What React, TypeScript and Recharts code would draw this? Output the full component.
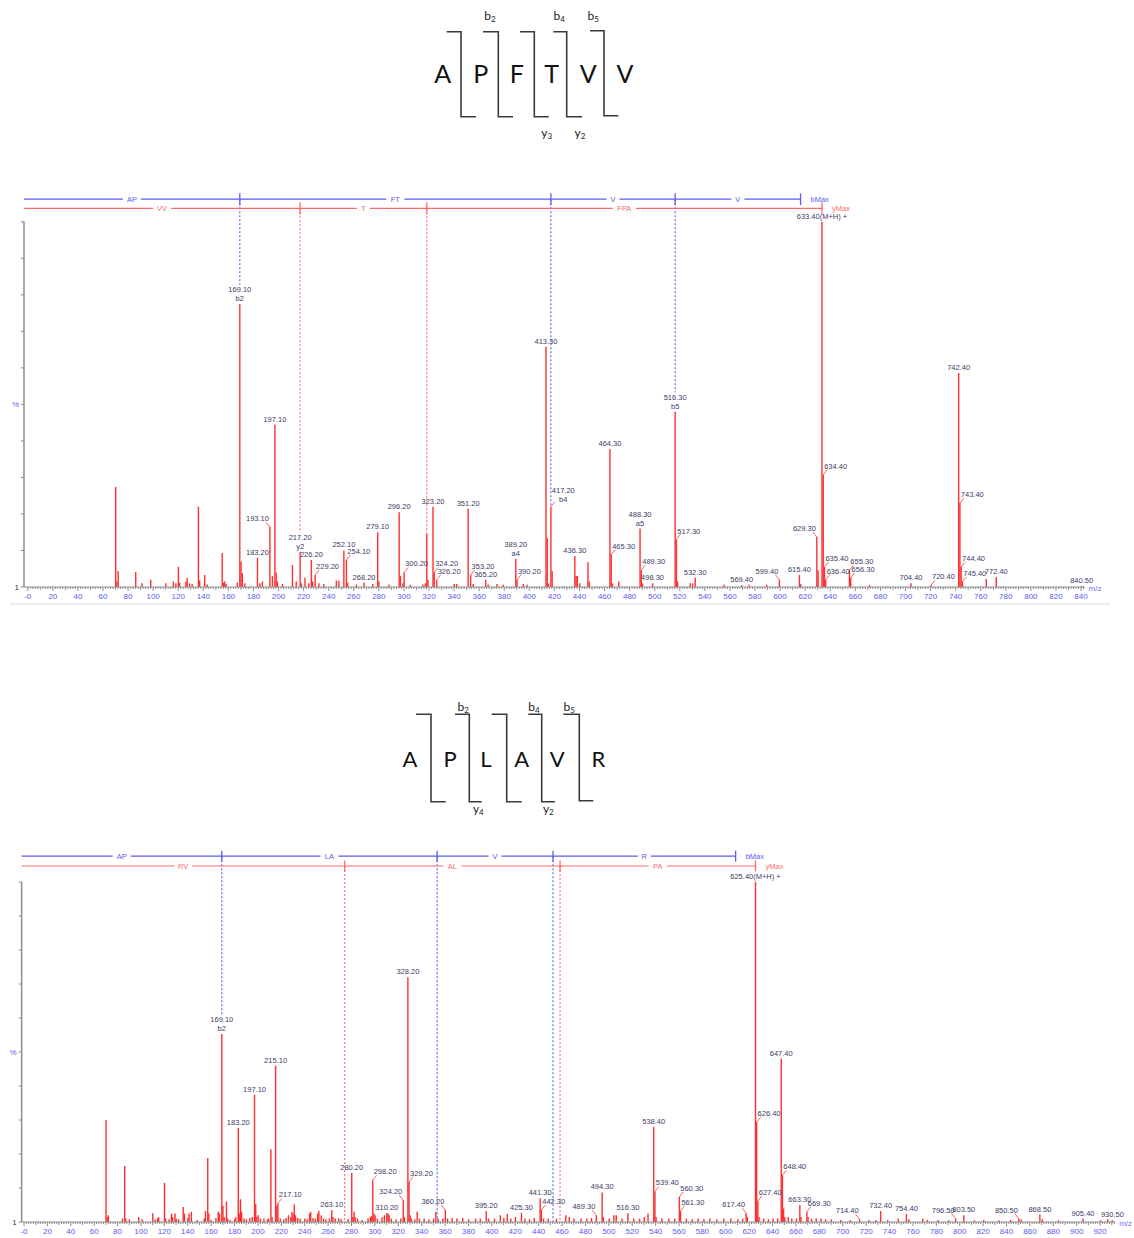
import React from 'react';
import { ComposedChart, Bar, XAxis, YAxis, ReferenceLine, ReferenceDot } from 'recharts';

// ================= Spectrum 1 : APFTVV =================
const spec1Mz = [70.1, 71.1, 72.1, 86.1, 91.1, 98.1, 110.1, 116.1, 118.1, 120.1, 121.1, 126.1, 127.1, 129.1, 131.1, 136.1, 137.1, 141.1, 143.1, 155.1, 156.1, 157.1, 158.1, 167.1, 169.1, 170.1, 171.1, 173.1, 183.2, 185.1, 187.1, 193.1, 195.1, 197.1, 198.1, 199.1, 203.1, 211.1, 214.1, 217.2, 218.2, 221.1, 224.1, 226.2, 227.2, 229.2, 232.1, 236.1, 246.1, 248.1, 252.1, 254.1, 255.1, 262.1, 268.2, 275.1, 279.1, 280.1, 288.1, 296.2, 297.2, 299.2, 300.2, 305.1, 315.1, 317.1, 318.2, 319.2, 323.2, 324.2, 326.2, 340.1, 342.1, 351.2, 353.2, 355.2, 365.2, 367.2, 374.2, 379.2, 389.2, 390.2, 395.2, 398.2, 413.3, 414.3, 415.3, 417.2, 418.2, 436.3, 437.3, 438.3, 440.3, 446.8, 447.8, 464.3, 465.3, 466.3, 471.3, 488.3, 489.3, 490.3, 498.3, 516.3, 517.3, 518.3, 528.3, 530.3, 532.3, 555.3, 569.4, 575.3, 589.3, 599.4, 615.4, 616.4, 629.3, 630.3, 633.4, 634.4, 635.4, 636.4, 655.3, 656.3, 671.3, 704.4, 720.4, 742.4, 743.4, 744.4, 745.4, 764.4, 772.4, 840.5];
const spec1Intensity = [27.4, 1.5, 4.4, 4.1, 1, 2, 1, 1.5, 1, 5.5, 1.2, 1.5, 2.5, 1, 0.8, 22, 1.8, 3.3, 0.7, 9.3, 1.2, 1.5, 0.8, 1.2, 77.5, 7, 3.8, 1, 8, 1, 1.5, 16.4, 3, 44.4, 4, 1.5, 0.8, 6, 1.5, 9.6, 1, 2.5, 1, 7.4, 1.5, 3.3, 1, 0.8, 1.8, 1.8, 10, 7.4, 1.2, 0.7, 1.2, 0.8, 15, 1.5, 0.7, 20.5, 3, 1, 4, 0.6, 0.7, 1, 14.5, 2, 22, 4, 2, 0.8, 0.8, 21.4, 3.3, 0.8, 2, 0.7, 0.8, 0.6, 7.7, 2, 0.8, 0.6, 65.8, 13.4, 1, 22, 4.4, 8.5, 3, 3, 1, 6.8, 1.5, 37.8, 8.8, 1, 1.5, 16, 4.6, 1, 1, 48, 13, 1.5, 1, 1, 2.5, 0.6, 0.5, 0.6, 0.6, 2, 3.3, 0.8, 13.7, 4.6, 100, 30.7, 5.5, 2, 4.6, 2.5, 0.6, 1, 0.5, 58.6, 23, 5.5, 1.4, 2.2, 2.7, 0.3];
const spec1Labels: [number, string, string?][] = [
  [169.1, '169.10', 'b2'], [183.2, '183.20'], [193.1, '193.10'], [197.1, '197.10'], [217.2, '217.20', 'y2'],
  [226.2, '226.20'], [229.2, '229.20'], [252.1, '252.10'], [254.1, '254.10'], [268.2, '268.20'], [279.1, '279.10'],
  [296.2, '296.20'], [300.2, '300.20'], [323.2, '323.20'], [324.2, '324.20'], [326.2, '326.20'], [351.2, '351.20'],
  [353.2, '353.20'], [365.2, '365.20'], [389.2, '389.20', 'a4'], [390.2, '390.20'], [413.3, '413.30'],
  [417.2, '417.20', 'b4'], [436.3, '436.30'], [464.3, '464.30'], [465.3, '465.30'], [488.3, '488.30', 'a5'],
  [489.3, '489.30'], [498.3, '498.30'], [516.3, '516.30', 'b5'], [517.3, '517.30'], [532.3, '532.30'],
  [569.4, '569.40'], [599.4, '599.40'], [615.4, '615.40'], [629.3, '629.30'], [633.4, '633.40(M+H) +'],
  [634.4, '634.40'], [635.4, '635.40'], [636.4, '636.40'], [655.3, '655.30'], [656.3, '656.30'], [704.4, '704.40'],
  [720.4, '720.40'], [742.4, '742.40'], [743.4, '743.40'], [744.4, '744.40'], [745.4, '745.40'], [772.4, '772.40'],
  [840.5, '840.50'],
];
const spec1LeftLeader = [193.1, 599.4, 629.3];
const spec1RightLeader = [229.2, 254.1, 300.2, 324.2, 326.2, 353.2, 390.2, 417.2, 465.3, 489.3, 517.3, 634.4, 635.4, 636.4, 655.3, 656.3, 720.4, 743.4, 744.4, 745.4];
const seq1BCuts = [169.1, 417.2, 516.3, 616.3];
const seq1BNames = ['AP', 'FT', 'V', 'V'];
const seq1YCuts = [217.2, 318.2, 633.4];
const seq1YNames = ['VV', 'T', 'FPA'];

// ================= Spectrum 2 : APLAVR =================
const spec2Mz = [70.1, 71.1, 72.1, 84.1, 86.1, 87.1, 90.1, 98.1, 101.1, 110.1, 112.1, 114.1, 115.1, 120.1, 121.1, 124.1, 126.1, 127.1, 129.1, 130.1, 132.1, 136.1, 137.1, 140.1, 141.1, 143.1, 148.1, 154.1, 155.1, 157.1, 158.1, 160.1, 164.1, 166.1, 167.1, 169.1, 170.1, 171.1, 173.1, 174.1, 176.1, 180.1, 181.1, 183.2, 184.2, 185.1, 186.1, 188.1, 190.1, 193.1, 195.1, 197.1, 198.1, 199.1, 200.1, 202.1, 205.1, 208.1, 209.1, 211.1, 212.1, 215.1, 216.1, 217.1, 219.1, 222.1, 224.1, 226.1, 228.1, 229.1, 230.1, 231.1, 232.1, 234.1, 236.1, 240.1, 242.1, 244.1, 245.1, 247.1, 249.1, 251.1, 252.1, 254.1, 256.1, 258.1, 261.1, 263.1, 264.1, 266.1, 269.1, 271.1, 277.1, 280.2, 281.2, 282.2, 283.1, 285.1, 289.1, 294.1, 296.1, 297.1, 298.2, 299.2, 300.2, 302.1, 306.1, 308.1, 310.2, 311.2, 312.2, 314.1, 318.1, 322.1, 324.2, 325.2, 328.2, 329.2, 330.2, 331.2, 334.1, 336.1, 338.1, 342.1, 346.1, 350.1, 352.1, 354.1, 358.1, 360.2, 362.1, 366.1, 370.1, 375.1, 380.1, 386.1, 390.1, 395.2, 397.2, 402.2, 407.2, 410.2, 413.2, 416.2, 420.2, 425.3, 428.2, 432.2, 436.2, 441.3, 442.3, 444.2, 448.2, 455.2, 463.2, 466.2, 470.2, 476.2, 481.2, 485.2, 489.3, 494.3, 495.3, 500.3, 504.3, 506.3, 511.3, 516.3, 521.3, 526.3, 530.3, 533.5, 538.4, 539.4, 540.4, 545.3, 551.3, 556.3, 560.3, 561.3, 566.3, 571.3, 576.3, 581.3, 586.3, 592.3, 598.3, 604.3, 610.3, 614.4, 617.4, 618.4, 625.4, 626.4, 627.4, 628.4, 632.4, 636.4, 640.4, 644.4, 647.4, 648.4, 649.4, 650.4, 653.4, 656.4, 660.4, 663.3, 664.3, 669.3, 670.3, 673.3, 677.3, 681.3, 685.3, 690.3, 698.3, 706.4, 714.4, 722.4, 728.4, 732.4, 738.4, 747.4, 754.4, 756.4, 768.4, 772.4, 781.4, 790.5, 796.5, 803.5, 812.5, 820.5, 833.5, 843.5, 850.5, 852.5, 868.5, 870.5, 884.5, 905.4, 920.5, 926.5, 930.5];
const spec2Intensity = [30, 1.5, 2, 1, 16.5, 1, 0.8, 1.5, 0.8, 2.6, 0.7, 1, 1.5, 11.5, 1, 0.8, 2.5, 1.5, 2.5, 1, 0.8, 4.4, 2.5, 1.2, 2.5, 3, 0.6, 1, 3.2, 18.8, 2.5, 0.6, 1.2, 3, 2.5, 55.3, 4.8, 1.5, 6, 1, 0.6, 0.8, 1.5, 27.7, 2.5, 6.7, 3, 1, 0.8, 1.2, 1.5, 37.4, 5.2, 1.5, 2, 1, 1, 0.8, 1, 21.4, 1.5, 46, 4.8, 5.5, 1, 0.8, 1.2, 2, 1.5, 3, 2.5, 5.2, 2, 1.2, 1, 1, 0.8, 2.5, 3, 1.2, 1, 2.5, 3.3, 2, 1, 0.8, 1, 3.5, 1.5, 1, 1, 0.8, 0.8, 14.5, 1.5, 3, 1.5, 1, 0.6, 1, 1.5, 1.7, 12.3, 2.5, 2, 1, 1.5, 2, 2.6, 2.5, 2, 1, 0.8, 1, 6.4, 1.5, 72, 11.8, 2, 1, 0.8, 3, 1, 1, 0.8, 1, 3, 1, 1, 3.5, 1, 1.2, 1, 1.2, 0.8, 1, 1, 3.2, 1, 1, 2, 1.2, 2.4, 1, 1.5, 2.7, 1, 0.8, 1.2, 7, 3.5, 1, 1, 1, 2, 1.5, 1, 1, 1, 1.2, 2, 8.7, 1.5, 1, 2, 2, 1, 2.6, 1, 1, 1.5, 2.5, 28, 9, 1.5, 1, 1, 1, 7.4, 3.2, 1, 0.8, 1, 0.8, 1, 0.8, 1, 1, 0.8, 1, 2.6, 1.5, 100, 29.4, 6.2, 1.5, 1, 0.8, 1, 1, 48, 13.8, 4, 1.5, 1.5, 1, 1, 5, 1.5, 3, 1.5, 1, 1, 1, 0.8, 0.8, 0.6, 0.6, 0.8, 0.6, 0.6, 3.2, 0.6, 1, 2.4, 0.8, 1, 0.6, 0.6, 0.5, 1, 2, 0.5, 0.6, 0.5, 0.6, 1, 0.7, 2.2, 0.8, 0.5, 1, 0.5, 0.8, 0.5];
const spec2Labels: [number, string, string?][] = [
  [169.1, '169.10', 'b2'], [183.2, '183.20'], [197.1, '197.10'], [215.1, '215.10'], [217.1, '217.10'],
  [263.1, '263.10'], [280.2, '280.20'], [298.2, '298.20'], [310.2, '310.20'], [324.2, '324.20'], [328.2, '328.20'],
  [329.2, '329.20'], [360.2, '360.20'], [395.2, '395.20'], [425.3, '425.30'], [441.3, '441.30'], [442.3, '442.30'],
  [489.3, '489.30'], [494.3, '494.30'], [516.3, '516.30'], [538.4, '538.40'], [539.4, '539.40'], [560.3, '560.30'],
  [561.3, '561.30'], [617.4, '617.40'], [625.4, '625.40(M+H) +'], [626.4, '626.40'], [627.4, '627.40'],
  [647.4, '647.40'], [648.4, '648.40'], [663.3, '663.30'], [669.3, '669.30'], [714.4, '714.40'], [732.4, '732.40'],
  [754.4, '754.40'], [796.5, '796.50'], [803.5, '803.50'], [850.5, '850.50'], [868.5, '868.50'], [905.4, '905.40'],
  [930.5, '930.50'],
];
const spec2LeftLeader = [324.2, 360.2, 489.3, 617.4, 714.4, 796.5, 850.5];
const spec2RightLeader = [217.1, 298.2, 329.2, 442.3, 539.4, 560.3, 561.3, 626.4, 627.4, 648.4, 669.3];
const seq2BCuts = [169.1, 353.2, 452.3, 608.4];
const seq2BNames = ['AP', 'LA', 'V', 'R'];
const seq2YCuts = [274.2, 458.3, 625.4];
const seq2YNames = ['RV', 'AL', 'PA'];

// ================= Peptide diagrams =================
const pep1Letters = ['A', 'P', 'F', 'T', 'V', 'V'];
const pep1Ions: [string, string, 'b' | 'y'][] = [['b', '2', 'b'], ['b', '4', 'b'], ['b', '5', 'b'], ['y', '3', 'y'], ['y', '2', 'y']];
const pep2Letters = ['A', 'P', 'L', 'A', 'V', 'R'];
const pep2Ions: [string, string, 'b' | 'y'][] = [['b', '2', 'b'], ['b', '4', 'b'], ['b', '5', 'b'], ['y', '4', 'y'], ['y', '2', 'y']];

const yTicks = [0, 10, 20, 30, 40, 50, 60, 70, 80, 90, 100];
const FONT = "'Liberation Sans', Arial, sans-serif";
const BLUE = '#5b5bf2';
const RED = '#ff6a6a';
const BAR = '#ff2f2f';
const LABEL = '#3d3b66';

function makeTicks(max: number) {
  const t: number[] = [];
  for (let v = 0; v <= max; v += 2) t.push(v);
  return t;
}

const XTick = (props: any) => {
  const { x, y, payload, last } = props;
  const v = payload.value;
  const major = v % 20 === 0;
  const mid = v % 10 === 0;
  return (
    <g>
      <line x1={x} y1={y} x2={x} y2={y + (major ? 4 : mid ? 3 : 2)} stroke="#8c8c8c" strokeWidth={1} />
      {major && (
        <text x={x} y={y + 12} textAnchor="middle" fontSize={8} fontFamily={FONT} fill="#5a5af0">
          {v === 0 ? '-0' : v}
        </text>
      )}
      {v === last && (
        <text x={x + 5} y={y + 4} fontSize={8} fontFamily={FONT} fill="#7070f0">m/z</text>
      )}
    </g>
  );
};

const YTick = (props: any) => {
  const { x, y, payload } = props;
  const v = payload.value;
  return (
    <g>
      <line x1={x - 3} y1={y} x2={x} y2={y} stroke="#8c8c8c" strokeWidth={1} />
      {v === 0 && <text x={x - 5} y={y + 3} textAnchor="end" fontSize={8} fontFamily={FONT} fill="#333">1</text>}
      {v === 50 && <text x={x - 5} y={y + 3} textAnchor="end" fontSize={8} fontFamily={FONT} fill="#5a5af0">%</text>}
    </g>
  );
};

const PeakBar = (props: any) => {
  const { x, y, width, height } = props;
  if (x == null || y == null) return null;
  const cx = x + width / 2;
  return <line x1={cx} y1={y} x2={cx} y2={y + height} stroke={BAR} strokeWidth={1.4} />;
};

function PeakLabel(props: any) {
  const { cx, cy, text, ion, mode } = props;
  const common = { fontSize: 7.5, fontFamily: FONT, fill: LABEL };
  if (mode === 'c') {
    return (
      <g>
        <text x={cx} y={cy - (ion ? 12 : 3)} textAnchor="middle" {...common}>{text}</text>
        {ion && <text x={cx} y={cy - 3} textAnchor="middle" {...common}>{ion}</text>}
      </g>
    );
  }
  const dir = mode === 'r' ? 1 : -1;
  const w = text.length * 3.8;
  const tcx = cx + dir * (1 + w / 2);
  return (
    <g>
      <line x1={cx} y1={cy} x2={cx + dir * 4} y2={cy - 5} stroke="#ff4d4d" strokeWidth={0.9} />
      <text x={tcx} y={cy - (ion ? 14 : 6)} textAnchor="middle" {...common}>{text}</text>
      {ion && <text x={tcx} y={cy - 5} textAnchor="middle" {...common}>{ion}</text>}
    </g>
  );
}

type SpecProps = {
  mz: number[]; intensity: number[]; labels: [number, string, string?][];
  left: number[]; right: number[];
  bCuts: number[]; bNames: string[]; yCuts: number[]; yNames: string[];
  top: number; height: number; margin: { top: number; right: number; bottom: number; left: number };
  yAxisWidth: number; xAxisHeight: number; xMin: number; xMax: number; lastTick: number;
  levelB: number; levelR: number;
};

function Spectrum(p: SpecProps) {
  const data = p.mz.map((m, i) => ({ mz: m, int: p.intensity[i] }));
  const ticks = makeTicks(p.lastTick);
  const plotWidth = 1134 - p.margin.left - p.margin.right - p.yAxisWidth;
  const pxPerUnit = plotWidth / (p.xMax - p.xMin);
  const near = (a: number, b: number) => Math.abs(a - b) < 0.15;
  const modeOf = (m: number) => (p.left.some((v) => near(v, m)) ? 'l' : p.right.some((v) => near(v, m)) ? 'r' : 'c');
  const dottedEnd = (m: number) => {
    const i = p.mz.findIndex((v) => near(v, m));
    if (i < 0) return 0;
    const v = p.intensity[i];
    const l = p.labels.find((q) => near(q[0], m));
    if (l && modeOf(m) === 'c') return v + (l[2] ? 5.3 : 3.5);
    return v;
  };

  const seqEls = (cuts: number[], names: string[], level: number, color: string, endText: string, key: string) => {
    const els: React.ReactNode[] = [];
    let start = p.xMin;
    cuts.forEach((c, i) => {
      const mid = (start + c) / 2;
      const gap = (names[i].length * 5 + 8) / 2 / pxPerUnit;
      els.push(<ReferenceLine key={`${key}a${i}`} segment={[{ x: start, y: level }, { x: mid - gap, y: level }]} stroke={color} strokeWidth={1.2} ifOverflow="visible" />);
      els.push(<ReferenceLine key={`${key}b${i}`} segment={[{ x: mid + gap, y: level }, { x: c, y: level }]} stroke={color} strokeWidth={1.2} ifOverflow="visible" />);
      els.push(<ReferenceLine key={`${key}t${i}`} segment={[{ x: c, y: level - 1.6 }, { x: c, y: level + 1.6 }]} stroke={color} strokeWidth={1.3} ifOverflow="visible" />);
      els.push(
        <ReferenceDot key={`${key}n${i}`} x={mid} y={level} r={0} ifOverflow="visible"
          shape={(q: any) => <text x={q.cx} y={q.cy + 2.7} textAnchor="middle" fontSize={7.5} fontFamily={FONT} fill={color}>{names[i]}</text>} />
      );
      if (i < cuts.length - 1) {
        els.push(<ReferenceLine key={`${key}d${i}`} segment={[{ x: c, y: level }, { x: c, y: dottedEnd(c) }]} stroke={color} strokeWidth={1.1} strokeDasharray="2 2" ifOverflow="visible" />);
      }
      start = c;
    });
    const last = cuts[cuts.length - 1];
    els.push(
      <ReferenceDot key={`${key}end`} x={last} y={level} r={0} ifOverflow="visible"
        shape={(q: any) => <text x={q.cx + 10} y={q.cy + 2.7} fontSize={7.5} fontFamily={FONT} fill={color}>{endText}</text>} />
    );
    return els;
  };

  return (
    <div style={{ position: 'absolute', left: 0, top: p.top, width: 1134, height: p.height }}>
      <ComposedChart width={1134} height={p.height} data={data} margin={p.margin}>
        <XAxis type="number" dataKey="mz" domain={[p.xMin, p.xMax]} ticks={ticks} interval={0} allowDataOverflow
          tickSize={0} tickMargin={0} tickLine={false} axisLine={{ stroke: '#8c8c8c' }} height={p.xAxisHeight}
          tick={(tp: any) => <XTick {...tp} last={p.lastTick} />} />
        <YAxis type="number" domain={[0, 112]} ticks={yTicks} interval={0} allowDataOverflow
          tickSize={0} tickMargin={0} tickLine={false} axisLine={false} width={p.yAxisWidth}
          tick={(tp: any) => <YTick {...tp} />} />
        <ReferenceLine segment={[{ x: p.xMin, y: 0 }, { x: p.xMin, y: 100 }]} stroke="#8c8c8c" strokeWidth={1.5} ifOverflow="visible" />
        {seqEls(p.bCuts, p.bNames, p.levelB, BLUE, 'bMax', 'b')}
        {seqEls(p.yCuts, p.yNames, p.levelR, RED, 'yMax', 'y')}
        <Bar dataKey="int" isAnimationActive={false} shape={(bp: any) => <PeakBar {...bp} />} />
        {p.labels.map(([m, text, ion]) => {
          const i = p.mz.findIndex((v) => near(v, m));
          const v = i >= 0 ? p.intensity[i] : 0;
          return (
            <ReferenceDot key={`l${m}`} x={m} y={v} r={0} ifOverflow="visible"
              shape={(q: any) => <PeakLabel cx={q.cx} cy={q.cy} text={text} ion={ion} mode={modeOf(m)} />} />
          );
        })}
      </ComposedChart>
    </div>
  );
}

type Bracket = [number, number, number, number, number];

function Peptide(props: { letters: string[]; xs: number[]; baseline: number; fontSize: number; brackets: Bracket[]; ions: [string, string, 'b' | 'y'][]; ionPos: [number, number][] }) {
  const { letters, xs, baseline, fontSize, brackets, ions, ionPos } = props;
  return (
    <g>
      {letters.map((l, i) => (
        <text key={`L${i}`} x={xs[i]} y={baseline} textAnchor="middle" fontSize={fontSize} fontFamily="Lato, 'Open Sans', sans-serif" fill="#111">{l}</text>
      ))}
      {brackets.map(([x0, xv, x1, yt, yb], i) => (
        <polyline key={`B${i}`} points={`${x0},${yt} ${xv},${yt} ${xv},${yb} ${x1},${yb}`} fill="none" stroke="#3a3a3a" strokeWidth={1.6} />
      ))}
      {ions.map(([base, sub], i) => (
        <text key={`I${i}`} x={ionPos[i][0]} y={ionPos[i][1]} textAnchor="middle" fontSize={12} fontFamily="Lato, 'Open Sans', sans-serif" fill="#222">
          {base}<tspan fontSize={8} dy={2}>{sub}</tspan>
        </text>
      ))}
    </g>
  );
}

export default function App() {
  return (
    <div style={{ position: 'absolute', left: 0, top: 0, width: 1134, height: 1238, background: '#fff', overflow: 'hidden' }}>
      <svg width={1134} height={1238} style={{ position: 'absolute', left: 0, top: 0 }}>
        <Peptide letters={pep1Letters} xs={[442.7, 480.7, 516.7, 551.7, 588.3, 625]} baseline={83} fontSize={25}
          brackets={[[446.7, 461, 476, 31.7, 116.7], [483, 498.3, 513, 31.7, 116.7], [520, 534.3, 548.7, 31.7, 116.7], [553.3, 566.7, 582, 31.7, 116.7], [590, 604, 618.3, 30.7, 115.7]]}
          ions={pep1Ions} ionPos={[[490, 20], [559.3, 20], [593.3, 20], [546.7, 137], [580, 137]]} />
        <Peptide letters={pep2Letters} xs={[410, 450, 486, 521.7, 557.3, 598.3]} baseline={767} fontSize={22}
          brackets={[[416, 431, 445.7, 714.3, 801.7], [455, 469.3, 481.7, 714.3, 801.7], [491.7, 506.7, 521.7, 714.3, 801.7], [528.3, 541.7, 555, 714.3, 801.7], [563.3, 579.3, 593.3, 714.3, 800.7]]}
          ions={pep2Ions} ionPos={[[463.3, 710.5], [534, 710.5], [569.3, 710.5], [478.3, 813], [548.3, 813]]} />
        <rect x={10} y={603} width={1100} height={2} fill="#ececec" />
      </svg>
      <Spectrum mz={spec1Mz} intensity={spec1Intensity} labels={spec1Labels} left={spec1LeftLeader} right={spec1RightLeader}
        bCuts={seq1BCuts} bNames={seq1BNames} yCuts={seq1YCuts} yNames={seq1YNames}
        top={170} height={440} margin={{ top: 8, right: 49.2, bottom: 3, left: 4 }} yAxisWidth={20} xAxisHeight={20}
        xMin={-3} xMax={843} lastTick={842} levelB={106.2} levelR={103.7} />
      <Spectrum mz={spec2Mz} intensity={spec2Intensity} labels={spec2Labels} left={spec2LeftLeader} right={spec2RightLeader}
        bCuts={seq2BCuts} bNames={seq2BNames} yCuts={seq2YCuts} yNames={seq2YNames}
        top={830} height={408} margin={{ top: 11.2, right: 18.7, bottom: 2, left: 3.66 }} yAxisWidth={18} xAxisHeight={14}
        xMin={-2} xMax={933} lastTick={932} levelB={107.6} levelR={104.7} />
    </div>
  );
}
